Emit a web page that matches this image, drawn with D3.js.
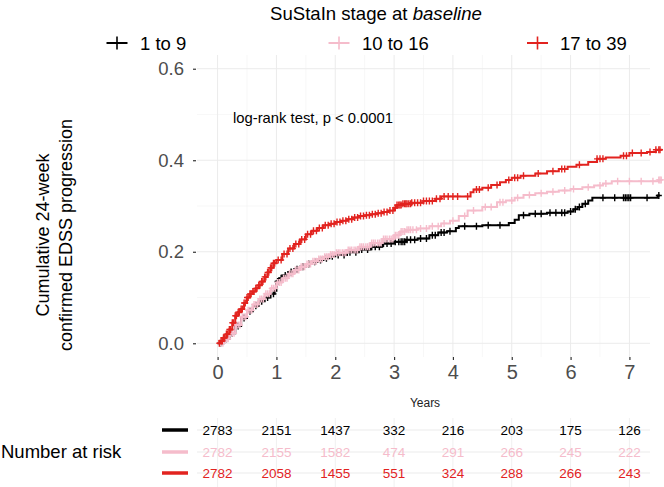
<!DOCTYPE html>
<html><head><meta charset="utf-8">
<script src="https://cdn.jsdelivr.net/npm/d3@7"></script>
<style>body{margin:0;background:#fff}svg{display:block;font-family:"Liberation Sans",Arial,Helvetica,sans-serif}</style>
</head><body><svg id="c" width="664" height="487"></svg>
<script>
const groups = ["1 to 9", "10 to 16", "17 to 39"];
const colors = ["#000000", "#f5bccb", "#e2231f"];
const xTicks = [0,1,2,3,4,5,6,7];
const yTicks = [0.0,0.2,0.4,0.6];

const blackCurve = [[0,0],[0.1,0.01],[0.2,0.022],[0.3,0.038],[0.4,0.055],[0.5,0.07],[0.6,0.082],[0.7,0.092],[0.8,0.1],[0.9,0.108],[0.97,0.115],[1.0,0.135],[1.05,0.142],[1.1,0.148],[1.2,0.156],[1.3,0.162],[1.4,0.167],[1.5,0.173],[1.6,0.178],[1.7,0.182],[1.8,0.186],[1.9,0.19],[2.0,0.193],[2.2,0.199],[2.4,0.205],[2.6,0.211],[2.8,0.218],[3.0,0.222],[3.2,0.226],[3.4,0.229],[3.6,0.236],[3.75,0.242],[3.9,0.245],[4.05,0.252],[4.1,0.256],[4.5,0.258],[4.95,0.263],[5.05,0.27],[5.12,0.28],[5.3,0.283],[5.6,0.285],[5.95,0.288],[6.05,0.293],[6.12,0.298],[6.2,0.305],[6.3,0.312],[6.37,0.318],[7.45,0.318],[7.48,0.323],[7.52,0.323]];
const pinkCurve = [[0,0],[0.1,0.01],[0.2,0.022],[0.3,0.04],[0.4,0.058],[0.5,0.072],[0.6,0.085],[0.7,0.097],[0.8,0.108],[0.9,0.12],[1.0,0.133],[1.1,0.142],[1.2,0.152],[1.3,0.16],[1.4,0.167],[1.5,0.173],[1.6,0.179],[1.7,0.184],[1.8,0.189],[1.9,0.194],[2.0,0.198],[2.2,0.204],[2.4,0.211],[2.6,0.219],[2.8,0.228],[3.0,0.236],[3.1,0.244],[3.2,0.248],[3.4,0.251],[3.6,0.256],[3.8,0.262],[3.95,0.268],[4.1,0.278],[4.25,0.29],[4.5,0.298],[4.75,0.308],[4.9,0.312],[5.05,0.318],[5.2,0.324],[5.4,0.328],[5.6,0.331],[5.8,0.334],[6.0,0.337],[6.2,0.341],[6.4,0.345],[6.55,0.349],[6.7,0.354],[7.5,0.357],[7.56,0.357]];
const redCurve = [[0,0],[0.05,0.005],[0.1,0.012],[0.15,0.02],[0.2,0.03],[0.25,0.045],[0.3,0.06],[0.35,0.068],[0.4,0.075],[0.45,0.088],[0.5,0.1],[0.55,0.108],[0.6,0.113],[0.65,0.12],[0.7,0.127],[0.75,0.135],[0.8,0.145],[0.85,0.155],[0.9,0.165],[0.95,0.175],[1.0,0.182],[1.1,0.195],[1.2,0.207],[1.3,0.217],[1.4,0.227],[1.5,0.238],[1.6,0.246],[1.7,0.252],[1.8,0.258],[1.9,0.261],[2.0,0.265],[2.1,0.268],[2.2,0.271],[2.3,0.275],[2.4,0.278],[2.5,0.28],[2.6,0.282],[2.7,0.284],[2.8,0.287],[2.9,0.29],[3.0,0.296],[3.05,0.302],[3.15,0.305],[3.3,0.307],[3.5,0.311],[3.7,0.316],[3.8,0.321],[4.15,0.321],[4.3,0.33],[4.35,0.336],[4.5,0.34],[4.65,0.346],[4.8,0.352],[4.9,0.357],[5.0,0.362],[5.15,0.366],[5.4,0.371],[5.6,0.376],[5.8,0.381],[5.95,0.386],[6.1,0.39],[6.3,0.396],[6.45,0.403],[6.6,0.406],[6.85,0.41],[7.0,0.416],[7.3,0.418],[7.45,0.423],[7.56,0.423]];

const blackCensor = [0.05,0.15,0.25,0.35,0.45,0.55,0.65,0.75,0.85,0.95,1.02,1.08,1.15,1.25,1.35,1.45,1.55,1.65,1.75,1.85,1.95,2.05,2.15,2.25,2.35,2.45,2.55,2.62,2.68,2.75,2.82,2.88,2.95,3.02,3.08,3.12,3.15,3.18,3.22,3.28,3.35,3.45,3.55,3.65,3.7,3.8,3.85,3.95,4.2,4.4,4.6,4.8,5.2,5.4,5.5,5.65,5.75,5.85,5.9,6.0,6.08,6.15,6.25,6.55,6.75,6.9,6.93,6.96,6.99,7.02,7.3,7.5];
const pinkCensor = [0.05,0.09,0.12,0.15,0.18,0.22,0.25,0.28,0.32,0.35,0.38,0.42,0.45,0.48,0.52,0.55,0.58,0.62,0.65,0.68,0.72,0.75,0.78,0.82,0.85,0.88,0.92,0.95,0.98,1.02,1.05,1.08,1.12,1.15,1.18,1.22,1.25,1.28,1.32,1.35,1.38,1.42,1.45,1.48,1.52,1.55,1.58,1.62,1.65,1.68,1.72,1.75,1.78,1.82,1.85,1.88,1.92,1.95,1.98,2.02,2.05,2.08,2.12,2.15,2.18,2.22,2.25,2.28,2.32,2.35,2.38,2.42,2.45,2.48,2.52,2.55,2.58,2.62,2.65,2.68,2.72,2.75,2.78,2.82,2.85,2.88,2.92,2.95,2.98,3.02,3.05,3.08,3.12,3.15,3.18,3.22,3.25,3.28,3.32,3.38,3.45,3.55,3.65,3.75,3.85,4.0,4.2,4.35,4.55,4.65,4.8,4.85,5.0,5.1,5.3,5.5,5.7,5.9,6.05,6.3,6.5,6.6,6.8,7.0,7.2,7.4,7.5,7.52,7.54];
const redCensor = [0.03,0.06,0.08,0.1,0.12,0.15,0.17,0.2,0.22,0.25,0.27,0.3,0.32,0.35,0.37,0.4,0.42,0.45,0.47,0.5,0.52,0.55,0.57,0.6,0.62,0.65,0.67,0.7,0.72,0.75,0.77,0.8,0.82,0.85,0.87,0.9,0.92,0.95,0.97,1.03,1.08,1.13,1.18,1.23,1.28,1.33,1.38,1.43,1.48,1.53,1.58,1.63,1.68,1.73,1.78,1.83,1.88,1.93,1.98,2.03,2.08,2.13,2.18,2.23,2.28,2.33,2.38,2.43,2.48,2.53,2.58,2.63,2.68,2.73,2.78,2.83,2.88,2.93,2.98,3.02,3.05,3.08,3.1,3.12,3.15,3.18,3.2,3.22,3.25,3.28,3.3,3.35,3.4,3.45,3.5,3.55,3.6,3.65,3.72,3.78,3.85,3.92,4.0,4.08,4.25,4.4,4.45,4.6,4.75,4.95,5.05,5.1,5.2,5.45,5.7,5.85,5.9,6.15,6.45,6.5,6.55,6.9,6.95,7.05,7.2,7.35,7.45,7.5,7.52];

const riskBlack = [2783,2151,1437,332,216,203,175,126];
const riskPink  = [2782,2155,1582,474,291,266,245,222];
const riskRed   = [2782,2058,1455,551,324,288,266,243];

const curves = [blackCurve, pinkCurve, redCurve];
const censors = [blackCensor, pinkCensor, redCensor];
const risks = [riskBlack, riskPink, riskRed];

const svg = d3.select("#c");
const L = 197, R = 650, T = 55, B = 357;
const x = d3.scaleLinear().domain([-0.35, 7.35]).range([L, R]);
const y = d3.scaleLinear().domain([-0.03, 0.63]).range([B, T]);

// gridlines main panel
const g = svg.append("g");
const minorX = d3.range(-0.5, 7.6, 1).filter(v => x(v) >= L && x(v) <= R);
const minorY = [0.1, 0.3, 0.5];
g.selectAll(".mx").data(minorX).join("line").attr("x1", d => x(d)).attr("x2", d => x(d)).attr("y1", T).attr("y2", B).attr("stroke", "#f4f4f4").attr("stroke-width", 0.7);
g.selectAll(".my").data(minorY).join("line").attr("x1", L).attr("x2", R).attr("y1", d => y(d)).attr("y2", d => y(d)).attr("stroke", "#f4f4f4").attr("stroke-width", 0.7);
g.selectAll(".gx").data(xTicks).join("line").attr("x1", d => x(d)).attr("x2", d => x(d)).attr("y1", T).attr("y2", B).attr("stroke", "#ebebeb").attr("stroke-width", 1);
g.selectAll(".gy").data(yTicks).join("line").attr("x1", L).attr("x2", R).attr("y1", d => y(d)).attr("y2", d => y(d)).attr("stroke", "#ebebeb").attr("stroke-width", 1);

// axes
const yAxis = d3.axisLeft(y).tickValues(yTicks).tickFormat(d3.format(".1f")).tickSize(3).tickPadding(9);
const ya = svg.append("g").attr("transform", `translate(${L-1},0)`).call(yAxis);
ya.select(".domain").remove();
ya.selectAll("line").attr("stroke", "#333").attr("stroke-width", 1.2);
ya.selectAll("text").attr("fill", "#4d4d4d").style("font-size", "18.5px").style("font-family", "Liberation Sans, Arial, sans-serif");

const xAxis = d3.axisBottom(x).tickValues(xTicks).tickFormat(d3.format("d")).tickSize(3).tickPadding(5);
const xa = svg.append("g").attr("transform", `translate(0,${B})`).call(xAxis);
xa.select(".domain").remove();
xa.selectAll("line").attr("stroke", "#333").attr("stroke-width", 1.2);
xa.selectAll("text").attr("fill", "#4d4d4d").style("font-size", "20px").style("font-family", "Liberation Sans, Arial, sans-serif");

svg.append("text").attr("x", 425).attr("y", 407).attr("text-anchor", "middle").style("font-size", "12px").attr("fill", "#222").text("Years");

// y title
svg.append("text").attr("transform", "rotate(-90)").attr("x", -235).attr("y", 49).attr("text-anchor", "middle").style("font-size", "18px").text("Cumulative 24-week");
svg.append("text").attr("transform", "rotate(-90)").attr("x", -235).attr("y", 72).attr("text-anchor", "middle").style("font-size", "18px").text("confirmed EDSS progression");

// curves with censor marks (drawn per series so later strata cover earlier)
const line = d3.line().x(d => x(d[0])).y(d => y(d[1])).curve(d3.curveStepAfter);
const stepAt = (c, t) => { let v = 0; for (const p of c) { if (p[0] <= t) v = p[1]; else break; } return v; };
[0,1,2].forEach(i => {
  const sg = svg.append("g");
  sg.append("path").datum(curves[i]).attr("d", line).attr("fill", "none").attr("stroke", colors[i]).attr("stroke-width", 2);
  const pts = censors[i].map(t => [t, stepAt(curves[i], t)]);
  sg.selectAll(".cm").data(pts).join("path")
    .attr("d", d => `M${x(d[0])-3},${y(d[1])}h6M${x(d[0])},${y(d[1])-3.5}v7`)
    .attr("stroke", colors[i]).attr("stroke-width", 1.4).attr("fill", "none");
});

svg.append("text").attr("x", 233).attr("y", 123).style("font-size", "14.8px").attr("fill", "#000").text("log-rank test, p < 0.0001");

// legend
svg.append("text").attr("x", 270).attr("y", 20).style("font-size", "18.6px").attr("fill", "#000")
  .call(t => { t.append("tspan").text("SuStaIn stage at "); t.append("tspan").style("font-style", "italic").text("baseline"); });
const legX = [117, 339, 537.5];
const legTX = [140, 362, 560];
groups.forEach((gname, i) => {
  svg.append("line").attr("x1", legX[i]-10.5).attr("x2", legX[i]+10.5).attr("y1", 43).attr("y2", 43).attr("stroke", colors[i]).attr("stroke-width", 2);
  svg.append("line").attr("x1", legX[i]).attr("x2", legX[i]).attr("y1", 36.5).attr("y2", 49.5).attr("stroke", colors[i]).attr("stroke-width", 1.6);
  svg.append("text").attr("x", legTX[i]).attr("y", 49.5).style("font-size", "18.5px").attr("fill", "#000").text(gname);
});

// risk table
const rowY = [430, 452, 473];
const rg = svg.append("g");
rg.selectAll(".rgx").data(xTicks).join("line").attr("x1", d => x(d)).attr("x2", d => x(d)).attr("y1", 418).attr("y2", 487).attr("stroke", "#f0f0f0").attr("stroke-width", 1);
rg.selectAll(".rgy").data(rowY).join("line").attr("x1", L).attr("x2", R).attr("y1", d => d).attr("y2", d => d).attr("stroke", "#ebebeb").attr("stroke-width", 1);
[0,1,2].forEach(i => {
  svg.append("line").attr("x1", 162).attr("x2", 188).attr("y1", rowY[i]).attr("y2", rowY[i]).attr("stroke", colors[i]).attr("stroke-width", 3.5);
  svg.append("g").selectAll("text").data(risks[i]).join("text")
    .attr("x", (d, j) => x(xTicks[j])).attr("y", rowY[i] + 5).attr("text-anchor", "middle")
    .style("font-size", "13.5px").attr("fill", colors[i]).text(d => d);
});
svg.append("text").attr("x", 1).attr("y", 458).style("font-size", "18.5px").attr("fill", "#000").text("Number at risk");
</script></body></html>
